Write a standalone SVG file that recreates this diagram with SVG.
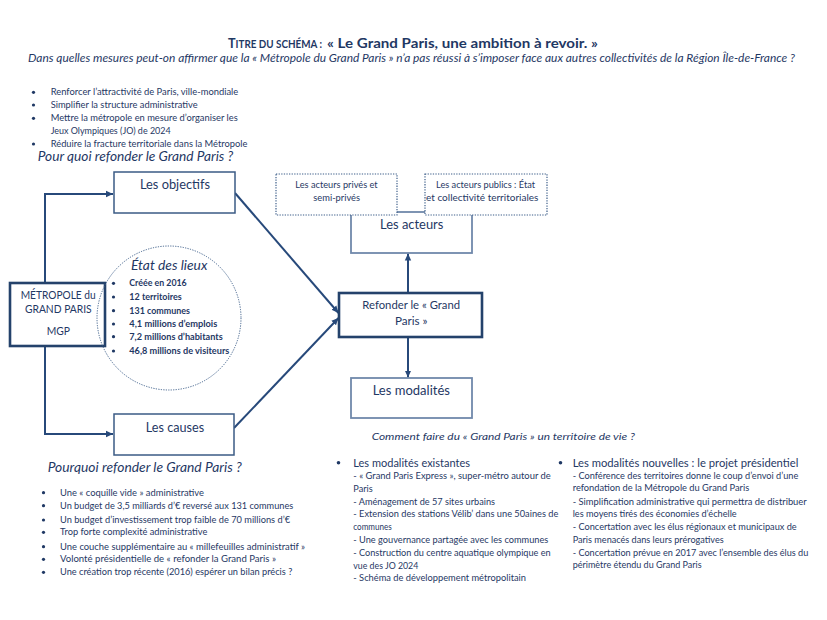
<svg xmlns="http://www.w3.org/2000/svg" width="827" height="620" viewBox="0 0 827 620">
<style>
text{font-family:Lato,"Open Sans","Liberation Sans",sans-serif;fill:#1F3864}
.s{font-size:8.5px}
.sb{font-size:8.5px;font-weight:bold}
.box{fill:#fff;stroke:#3B5B85;stroke-width:1.5}
.lbox{fill:#fff;stroke:#7089AB;stroke-width:1.8}
.tbox{fill:#fff;stroke:#24426B;stroke-width:2.6}
.dbox{fill:#fff;stroke:#3E5F8A;stroke-width:1.2;stroke-dasharray:1.3 1.3}
.lab{font-size:13px;text-anchor:middle}
.mid{font-size:11px;text-anchor:middle}
.it{font-style:italic}
.con{fill:none;stroke:#27497A;stroke-width:2}
.b{fill:#1F3864}
</style>
<defs>
<marker id="ah" markerUnits="userSpaceOnUse" markerWidth="8" markerHeight="8" refX="7" refY="4" orient="auto">
<path d="M0,0.8 L7,4 L0,7.2 z" fill="#27497A"/>
</marker>
</defs>
<rect width="827" height="620" fill="#fff"/>

<g id="title">
<text x="228" y="48" font-size="10.5" font-weight="bold" textLength="94" lengthAdjust="spacingAndGlyphs"><tspan font-size="13.5">T</tspan>ITRE DU SCHÉMA :</text>
<text x="327" y="48" font-size="14" font-weight="bold" textLength="271" lengthAdjust="spacingAndGlyphs">« Le Grand Paris, une ambition à revoir. »</text>
<text x="28" y="61.5" font-size="11.5" class="it" textLength="767" lengthAdjust="spacingAndGlyphs">Dans quelles mesures peut-on affirmer que la « Métropole du Grand Paris » n’a pas réussi à s’imposer face aux autres collectivités de la Région Île-de-France ?</text>
</g>

<g id="objectifs-list">
<circle class="b" cx="33.5" cy="92.3" r="1.6"/>
<circle class="b" cx="33.5" cy="105" r="1.6"/>
<circle class="b" cx="33.5" cy="118.3" r="1.6"/>
<circle class="b" cx="33.5" cy="144" r="1.6"/>
<text class="s" x="50.7" y="95.3" textLength="187.6" lengthAdjust="spacingAndGlyphs">Renforcer l’attractivité de Paris, ville-mondiale</text>
<text class="s" x="50.7" y="108" textLength="147" lengthAdjust="spacingAndGlyphs">Simplifier la structure administrative</text>
<text class="s" x="50.7" y="121.3" textLength="187" lengthAdjust="spacingAndGlyphs">Mettre la métropole en mesure d’organiser les</text>
<text class="s" x="50.7" y="134" textLength="120" lengthAdjust="spacingAndGlyphs">Jeux Olympiques (JO) de 2024</text>
<text class="s" x="50.7" y="147" textLength="196.7" lengthAdjust="spacingAndGlyphs">Réduire la fracture territoriale dans la Métropole</text>
<text x="37.7" y="160.5" font-size="13" class="it" textLength="195.6" lengthAdjust="spacingAndGlyphs">Pour quoi refonder le Grand Paris ?</text>
</g>

<g id="connectors">
<path class="con" d="M45,283 V194 H113" marker-end="url(#ah)"/>
<path class="con" d="M45,346 V434 H113" marker-end="url(#ah)"/>
<path class="con" d="M235,193 L338.5,313" marker-end="url(#ah)"/>
<path class="con" d="M234,428 L338.5,318" marker-end="url(#ah)"/>
<path class="con" d="M408,293 V253.5" marker-end="url(#ah)"/>
<path class="con" d="M408,337 V377.5" marker-end="url(#ah)"/>
</g>

<g id="objectifs">
<rect class="box" x="114" y="172" width="121" height="41"/>
<text class="lab" x="175" y="188.5" textLength="70" lengthAdjust="spacingAndGlyphs">Les objectifs</text>
</g>

<g id="mgp">
<rect class="tbox" x="10" y="283" width="95" height="63"/>
<text class="mid" x="58.2" y="299" textLength="75" lengthAdjust="spacingAndGlyphs">MÉTROPOLE du</text>
<text class="mid" x="58.3" y="313" textLength="66.7" lengthAdjust="spacingAndGlyphs">GRAND PARIS</text>
<text class="mid" x="58.3" y="335" textLength="23.3" lengthAdjust="spacingAndGlyphs">MGP</text>
</g>

<g id="etat-des-lieux">
<circle cx="169" cy="318" r="72" fill="none" stroke="#3E5F8A" stroke-width="1" stroke-dasharray="1.2 1.3"/>
<text x="131" y="269.5" font-size="13" class="it" textLength="76.3" lengthAdjust="spacingAndGlyphs">État des lieux</text>
<circle class="b" cx="113.5" cy="283.3" r="1.6"/>
<circle class="b" cx="113.5" cy="297" r="1.6"/>
<circle class="b" cx="113.5" cy="310.7" r="1.6"/>
<circle class="b" cx="113.5" cy="324" r="1.6"/>
<circle class="b" cx="113.5" cy="336.7" r="1.6"/>
<circle class="b" cx="113.5" cy="351" r="1.6"/>
<text class="sb" x="129.3" y="286.3" textLength="57.4" lengthAdjust="spacingAndGlyphs">Créée en 2016</text>
<text class="sb" x="129.3" y="300" textLength="52.4" lengthAdjust="spacingAndGlyphs">12 territoires</text>
<text class="sb" x="129.3" y="313.7" textLength="60.7" lengthAdjust="spacingAndGlyphs">131 communes</text>
<text class="sb" x="129.3" y="327" textLength="88" lengthAdjust="spacingAndGlyphs">4,1 millions d’emplois</text>
<text class="sb" x="129.3" y="339.7" textLength="93.4" lengthAdjust="spacingAndGlyphs">7,2 millions d’habitants</text>
<text class="sb" x="129.3" y="354" textLength="100" lengthAdjust="spacingAndGlyphs">46,8 millions de visiteurs</text>
</g>

<g id="causes">
<rect class="box" x="114" y="414" width="120" height="41"/>
<text class="lab" x="175" y="431.5" textLength="58.3" lengthAdjust="spacingAndGlyphs">Les causes</text>
</g>

<g id="acteurs">
<rect class="lbox" x="351" y="212" width="121" height="41"/>
<text class="lab" x="411.7" y="228.5" textLength="63.3" lengthAdjust="spacingAndGlyphs">Les acteurs</text>
</g>

<g id="acteurs-prives">
<rect class="dbox" x="276" y="174" width="121" height="41"/>
<text class="s" x="336.5" y="188" text-anchor="middle" textLength="82.3" lengthAdjust="spacingAndGlyphs">Les acteurs privés et</text>
<text class="s" x="336.7" y="201.3" text-anchor="middle" textLength="46.7" lengthAdjust="spacingAndGlyphs">semi-privés</text>
</g>

<g id="acteurs-publics">
<rect class="dbox" x="425" y="174" width="122" height="41"/>
<text class="s" x="485.5" y="188" text-anchor="middle" textLength="99" lengthAdjust="spacingAndGlyphs">Les acteurs publics : État</text>
<text class="s" x="482.2" y="201.3" text-anchor="middle" textLength="112.3" lengthAdjust="spacingAndGlyphs">et collectivité territoriales</text>
</g>

<g id="refonder">
<rect class="tbox" x="339" y="293" width="143" height="44"/>
<text class="mid" x="411.2" y="309" textLength="97.7" lengthAdjust="spacingAndGlyphs">Refonder le « Grand</text>
<text class="mid" x="411.3" y="324.7" textLength="32.7" lengthAdjust="spacingAndGlyphs">Paris »</text>
</g>

<g id="modalites">
<rect class="lbox" x="351" y="378" width="121" height="40"/>
<text class="lab" x="411.3" y="394.5" textLength="77.3" lengthAdjust="spacingAndGlyphs">Les modalités</text>
</g>

<g id="questions">
<text x="371.7" y="440.3" font-size="10" class="it" textLength="263.3" lengthAdjust="spacingAndGlyphs">Comment faire du « Grand Paris » un territoire de vie ?</text>
<text x="47.7" y="471.5" font-size="13" class="it" textLength="194" lengthAdjust="spacingAndGlyphs">Pourquoi refonder le Grand Paris ?</text>
</g>

<g id="causes-list">
<circle class="b" cx="43.5" cy="492.7" r="1.6"/>
<circle class="b" cx="43.5" cy="505.7" r="1.6"/>
<circle class="b" cx="43.5" cy="520" r="1.6"/>
<circle class="b" cx="43.5" cy="532.3" r="1.6"/>
<circle class="b" cx="43.5" cy="546.7" r="1.6"/>
<circle class="b" cx="43.5" cy="559.3" r="1.6"/>
<circle class="b" cx="43.5" cy="572.3" r="1.6"/>
<text class="s" x="60" y="495.7" textLength="144" lengthAdjust="spacingAndGlyphs">Une « coquille vide » administrative</text>
<text class="s" x="60" y="508.7" textLength="233.3" lengthAdjust="spacingAndGlyphs">Un budget de 3,5 milliards d’€ reversé aux 131 communes</text>
<text class="s" x="60" y="523" textLength="230" lengthAdjust="spacingAndGlyphs">Un budget d’investissement trop faible de 70 millions d’€</text>
<text class="s" x="60" y="535.3" textLength="147.3" lengthAdjust="spacingAndGlyphs">Trop forte complexité administrative</text>
<text class="s" x="60" y="549.7" textLength="245" lengthAdjust="spacingAndGlyphs">Une couche supplémentaire au « millefeuilles administratif »</text>
<text class="s" x="60" y="562.3" textLength="216" lengthAdjust="spacingAndGlyphs">Volonté présidentielle de « refonder la Grand Paris »</text>
<text class="s" x="60" y="575.3" textLength="232.3" lengthAdjust="spacingAndGlyphs">Une création trop récente (2016) espérer un bilan précis ?</text>
</g>

<g id="modalites-existantes">
<circle class="b" cx="338.5" cy="462.7" r="1.8"/>
<text x="353.3" y="466.5" font-size="11" textLength="116.7" lengthAdjust="spacingAndGlyphs">Les modalités existantes</text>
<text class="s" x="353.3" y="479" textLength="197.4" lengthAdjust="spacingAndGlyphs">- « Grand Paris Express », super-métro autour de</text>
<text class="s" x="353.3" y="491.7" textLength="19.4" lengthAdjust="spacingAndGlyphs">Paris</text>
<text class="s" x="353.3" y="505" textLength="141.7" lengthAdjust="spacingAndGlyphs">- Aménagement de 57 sites urbains</text>
<text class="s" x="353.3" y="517.3" textLength="205" lengthAdjust="spacingAndGlyphs">- Extension des stations Vélib’ dans une 50aines de</text>
<text class="s" x="353.3" y="530.3" textLength="38.5" lengthAdjust="spacingAndGlyphs">communes</text>
<text class="s" x="353.3" y="543" textLength="195" lengthAdjust="spacingAndGlyphs">- Une gouvernance partagée avec les communes</text>
<text class="s" x="353.3" y="555.7" textLength="197.4" lengthAdjust="spacingAndGlyphs">- Construction du centre aquatique olympique en</text>
<text class="s" x="353.3" y="569" textLength="65" lengthAdjust="spacingAndGlyphs">vue des JO 2024</text>
<text class="s" x="353.3" y="581.3" textLength="172.7" lengthAdjust="spacingAndGlyphs">- Schéma de développement métropolitain</text>
</g>

<g id="modalites-nouvelles">
<circle class="b" cx="560.5" cy="462.7" r="1.8"/>
<text x="572.7" y="466.5" font-size="11" textLength="225.6" lengthAdjust="spacingAndGlyphs">Les modalités nouvelles : le projet présidentiel</text>
<text class="s" x="572.7" y="479" textLength="225.6" lengthAdjust="spacingAndGlyphs">- Conférence des territoires donne le coup d’envoi d’une</text>
<text class="s" x="572.7" y="491.3" textLength="176.5" lengthAdjust="spacingAndGlyphs">refondation de la Métropole du Grand Paris</text>
<text class="s" x="572.7" y="504.7" textLength="234" lengthAdjust="spacingAndGlyphs">- Simplification administrative qui permettra de distribuer</text>
<text class="s" x="572.7" y="517" textLength="164" lengthAdjust="spacingAndGlyphs">les moyens tirés des économies d’échelle</text>
<text class="s" x="572.7" y="530.3" textLength="224" lengthAdjust="spacingAndGlyphs">- Concertation avec les élus régionaux et municipaux de</text>
<text class="s" x="572.7" y="543" textLength="151" lengthAdjust="spacingAndGlyphs">Paris menacés dans leurs prérogatives</text>
<text class="s" x="572.7" y="555.7" textLength="235.6" lengthAdjust="spacingAndGlyphs">- Concertation prévue en 2017 avec l’ensemble des élus du</text>
<text class="s" x="572.7" y="568" textLength="129" lengthAdjust="spacingAndGlyphs">périmètre étendu du Grand Paris</text>
</g>
</svg>
